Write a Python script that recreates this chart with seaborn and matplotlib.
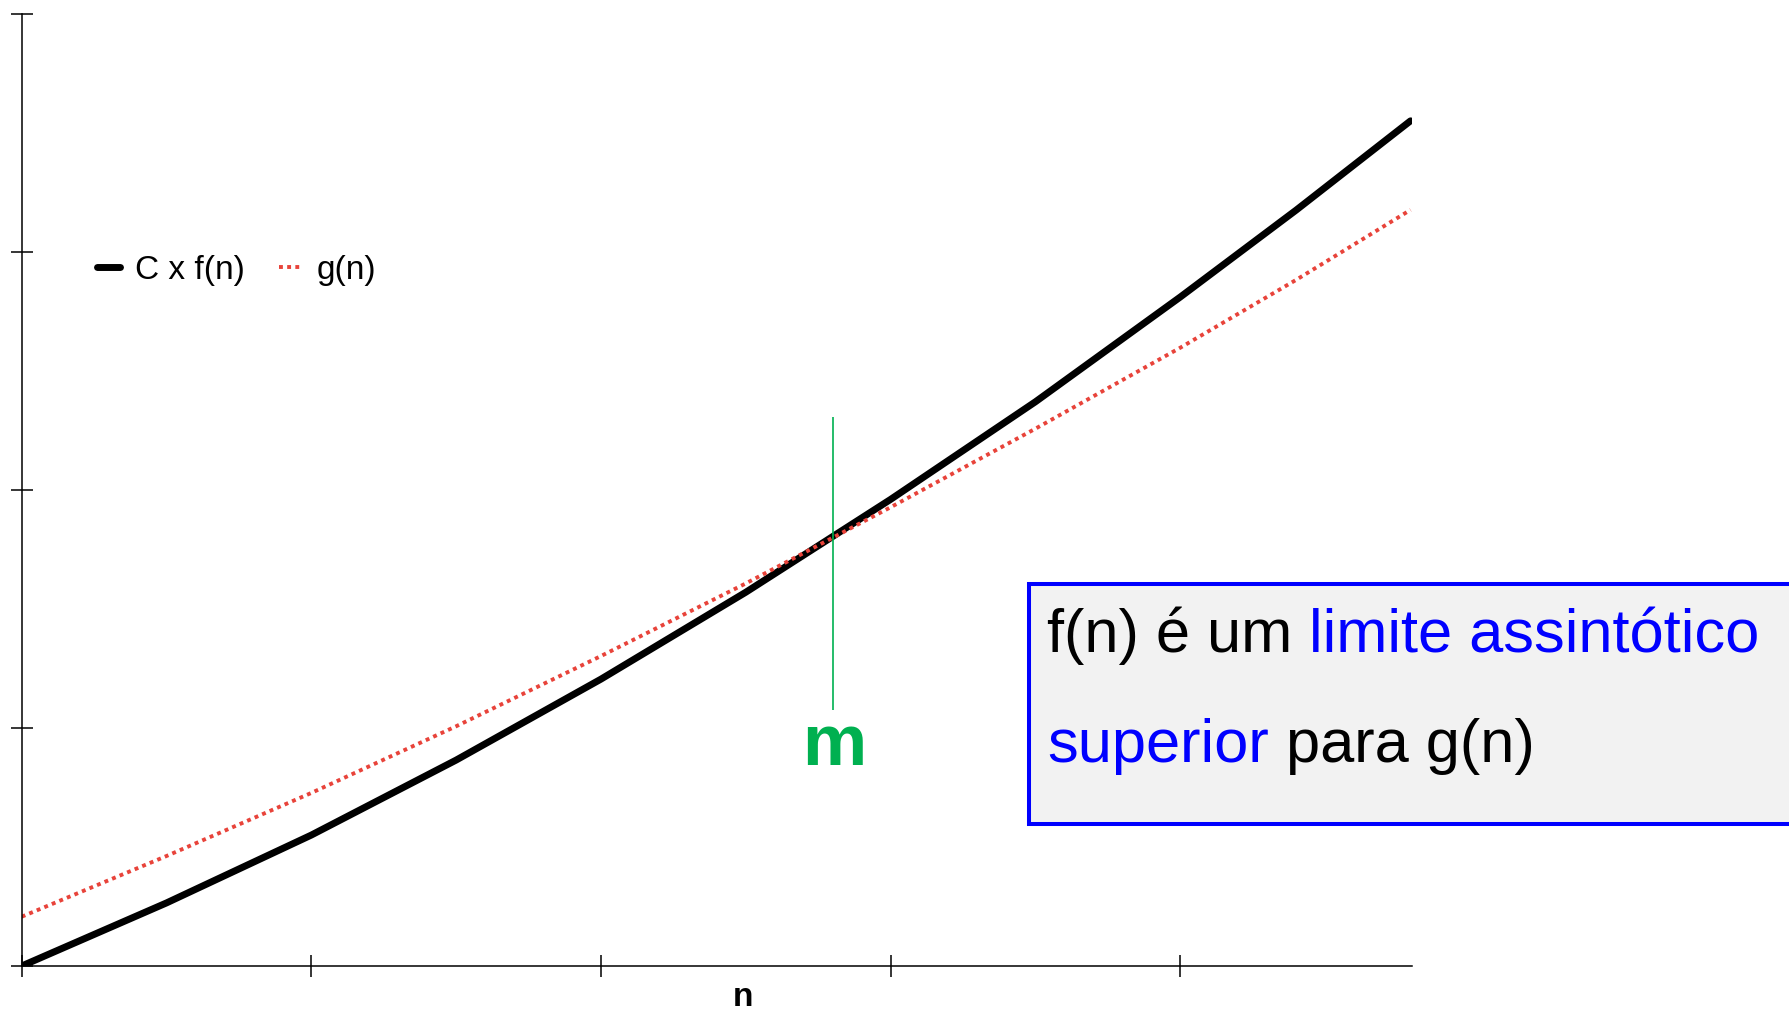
import matplotlib
matplotlib.use("Agg")
import matplotlib.pyplot as plt
import pandas as pd
import seaborn as sns
from matplotlib.patches import Rectangle

# values (axis units = tick steps)
n_vals = [0, 0.5, 1, 1.5, 2, 2.5, 3, 3.5, 4, 4.4, 4.795]
cf_vals = [0, 0.265, 0.55, 0.865, 1.205, 1.57, 1.96, 2.37, 2.81, 3.175, 3.55]
g_vals = [0.207, 0.462, 0.727, 1.007, 1.302, 1.607, 1.927, 2.257, 2.597, 2.882, 3.176]

x_ticks = [0, 1, 2, 3, 4]
y_ticks = [0, 1, 2, 3, 4]

m_x = 2.80
m_span = [1.076, 2.307]

legend_labels = ["C x f(n)", "g(n)"]
box_line1 = [("f(n) é um", "black"), ("limite assintótico", "#0000ff")]
box_line2 = [("superior", "#0000ff"), ("para g(n)", "black")]

RED = "#e8433a"
GREEN = "#00b050"

sns.set_theme(style="white")
plt.rcParams["font.family"] = ["Liberation Sans", "DejaVu Sans"]
plt.rcParams["text.color"] = "black"
plt.rcParams["axes.labelcolor"] = "black"

W, H = 1790, 1013
fig = plt.figure(figsize=(W / 100, H / 100), dpi=100)
ax = fig.add_axes([21.7 / W, 1 - 966 / H, (1412 - 21.7) / W, (966 - 13.7) / H])

df = pd.DataFrame({"n": n_vals, "cf": cf_vals, "g": g_vals})

sns.lineplot(data=df, x="n", y="cf", color="black", lw=5, label=legend_labels[0],
             solid_capstyle="round", solid_joinstyle="round", ax=ax)
sns.lineplot(data=df, x="n", y="g", color=RED, lw=2.8, linestyle=(0, (1, 1.1)),
             label=legend_labels[1], ax=ax)

ax.vlines(m_x, m_span[0], m_span[1], color=GREEN, lw=1.2)
ax.text(m_x + 0.005, 0.845, "m", color=GREEN, fontsize=52, fontweight="bold",
        ha="center", va="baseline")

ax.set_xlim(0, 4.8)
ax.set_ylim(0, 4)
ax.set_xticks(x_ticks)
ax.set_yticks(y_ticks)
ax.set_xticklabels([])
ax.set_yticklabels([])
ax.set_ylabel("")
ax.tick_params(direction="inout", length=16, width=1.1, color="black",
               bottom=True, left=True)
sns.despine(ax=ax)
for s in ["left", "bottom"]:
    ax.spines[s].set_color("black")
    ax.spines[s].set_linewidth(1.1)

ax.set_xlabel("n", fontsize=24, fontweight="bold", color="black")
ax.xaxis.set_label_coords(0.519, -0.017)

leg = ax.legend(loc="center left", bbox_to_anchor=(97 / W, 1 - 270 / H),
                bbox_transform=fig.transFigure, frameon=False, ncol=2, fontsize=24,
                handlelength=0.7, handletextpad=0.45, columnspacing=1.0,
                borderpad=0, borderaxespad=0)
for t in leg.get_texts():
    t.set_color("black")

# text box (runs past the right edge)
box = Rectangle((1029 / W, 1 - 824 / H), 0.5, (824 - 584) / H,
                transform=fig.transFigure, facecolor="#f2f2f2",
                edgecolor="#0000ff", lw=2.9, clip_on=False)
fig.add_artist(box)

renderer = fig.canvas.get_renderer()


def text_width(s, size):
    t = fig.text(0, 0, s, fontsize=size)
    w = t.get_window_extent(renderer=renderer).width
    t.remove()
    return w / W


def rich_line(x, y, parts, size):
    gap = text_width("a a", size) - text_width("aa", size)
    for s, c in parts:
        t = fig.text(x, y, s, color=c, fontsize=size, ha="left", va="baseline")
        x += t.get_window_extent(renderer=renderer).width / W + gap


rich_line(1047 / W, 1 - 652 / H, box_line1, 44.2)
rich_line(1047 / W, 1 - 762 / H, box_line2, 44.2)

fig.savefig("out.png", dpi=100)
